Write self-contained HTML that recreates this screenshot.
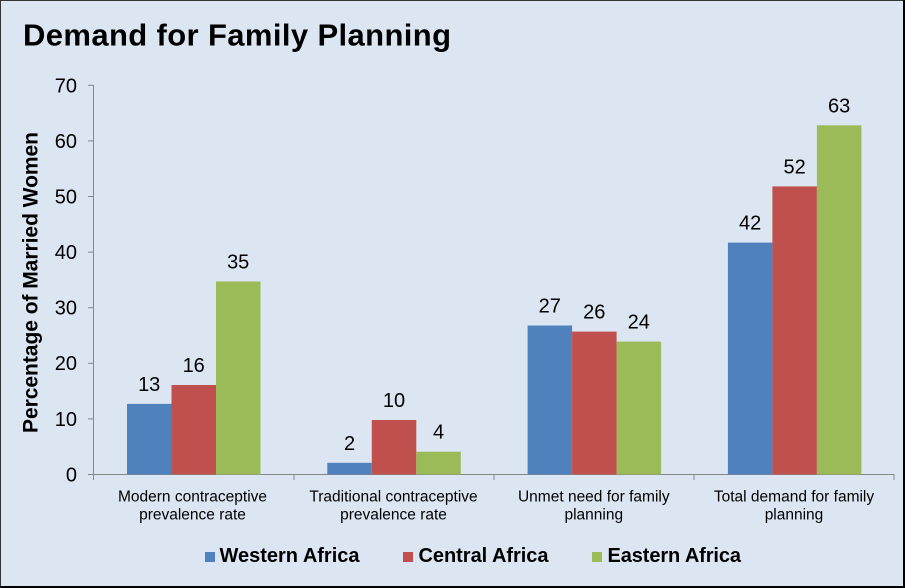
<!DOCTYPE html>
<html><head><meta charset="utf-8"><style>
html,body{margin:0;padding:0;background:#DCE6F2;}
svg{display:block;}
text{font-family:"Liberation Sans",Arial,sans-serif;fill:#000;}
</style></head><body>
<svg width="905" height="588" viewBox="0 0 905 588" xmlns="http://www.w3.org/2000/svg">
<rect x="0" y="0" width="905" height="588" fill="#DCE6F2"/>
<rect x="0.5" y="0.5" width="903" height="586" fill="none" stroke="#333" stroke-width="1"/>
<line x1="904" y1="0" x2="904" y2="588" stroke="#000" stroke-width="2"/>
<line x1="0" y1="587" x2="905" y2="587" stroke="#000" stroke-width="2"/>

<text x="23" y="45.5" font-size="31" font-weight="bold" textLength="428" lengthAdjust="spacing">Demand for Family Planning</text>

<text transform="translate(37.5,282.5) rotate(-90)" text-anchor="middle" font-size="21" font-weight="bold" textLength="301" lengthAdjust="spacing">Percentage of Married Women</text>

<!-- y axis -->
<g stroke="#868686" stroke-width="1">
<line x1="93.5" y1="85" x2="93.5" y2="475"/>
<line x1="88" y1="85.3" x2="93.5" y2="85.3"/>
<line x1="88" y1="140.9" x2="93.5" y2="140.9"/>
<line x1="88" y1="196.5" x2="93.5" y2="196.5"/>
<line x1="88" y1="252.1" x2="93.5" y2="252.1"/>
<line x1="88" y1="307.7" x2="93.5" y2="307.7"/>
<line x1="88" y1="363.3" x2="93.5" y2="363.3"/>
<line x1="88" y1="418.9" x2="93.5" y2="418.9"/>
<line x1="88" y1="474.5" x2="894.5" y2="474.5"/>
<line x1="93.5" y1="474.5" x2="93.5" y2="480"/>
<line x1="294" y1="474.5" x2="294" y2="480"/>
<line x1="494" y1="474.5" x2="494" y2="480"/>
<line x1="694" y1="474.5" x2="694" y2="480"/>
<line x1="894" y1="474.5" x2="894" y2="480"/>
</g>
<g font-size="20" text-anchor="end">
<text x="77" y="92.5">70</text>
<text x="77" y="148">60</text>
<text x="77" y="203.5">50</text>
<text x="77" y="259">40</text>
<text x="77" y="314.5">30</text>
<text x="77" y="370">20</text>
<text x="77" y="426">10</text>
<text x="77" y="481.5">0</text>
</g>

<!-- bars -->
<g fill="#4F81BD">
<rect x="127" y="403.9" width="44.5" height="70.6"/>
<rect x="327.3" y="462.8" width="44.5" height="11.7"/>
<rect x="527.6" y="325.5" width="44.5" height="149"/>
<rect x="727.9" y="242.6" width="44.5" height="231.9"/>
</g>
<g fill="#C0504D">
<rect x="171.5" y="385" width="44.5" height="89.5"/>
<rect x="371.8" y="420" width="44.5" height="54.5"/>
<rect x="572.1" y="331.6" width="44.5" height="142.9"/>
<rect x="772.4" y="186.4" width="44.5" height="288.1"/>
</g>
<g fill="#9BBB59">
<rect x="216" y="281.5" width="44.5" height="193"/>
<rect x="416.3" y="451.7" width="44.5" height="22.8"/>
<rect x="616.6" y="341.6" width="44.5" height="132.9"/>
<rect x="816.9" y="125.3" width="44.5" height="349.2"/>
</g>

<!-- data labels -->
<g font-size="20" text-anchor="middle">
<text x="149.2" y="391">13</text>
<text x="193.7" y="372">16</text>
<text x="238.2" y="268.5">35</text>
<text x="349.5" y="450">2</text>
<text x="394" y="407">10</text>
<text x="438.5" y="438.7">4</text>
<text x="549.8" y="312.5">27</text>
<text x="594.3" y="318.6">26</text>
<text x="638.8" y="328.6">24</text>
<text x="750.1" y="229.6">42</text>
<text x="794.6" y="173.4">52</text>
<text x="839.1" y="112.3">63</text>
</g>

<!-- category labels -->
<g font-size="15.5" text-anchor="middle" fill="#000">
<text x="192.5" y="501.5">Modern contraceptive</text>
<text x="192.5" y="519.5">prevalence rate</text>
<text x="393.5" y="501.5">Traditional contraceptive</text>
<text x="393.5" y="519.5">prevalence rate</text>
<text x="593.8" y="501.5">Unmet need for family</text>
<text x="593.8" y="519.5">planning</text>
<text x="794" y="501.5">Total demand for family</text>
<text x="794" y="519.5">planning</text>
</g>

<!-- legend -->
<rect x="205" y="552" width="10" height="10" fill="#4F81BD"/>
<text x="219.5" y="562" font-size="20" font-weight="bold" textLength="140" lengthAdjust="spacing">Western Africa</text>
<rect x="403" y="552" width="10" height="10" fill="#C0504D"/>
<text x="418.5" y="562" font-size="20" font-weight="bold" textLength="130" lengthAdjust="spacing">Central Africa</text>
<rect x="592" y="552" width="10" height="10" fill="#9BBB59"/>
<text x="607.5" y="562" font-size="20" font-weight="bold" textLength="133.5" lengthAdjust="spacing">Eastern Africa</text>
</svg>
</body></html>
